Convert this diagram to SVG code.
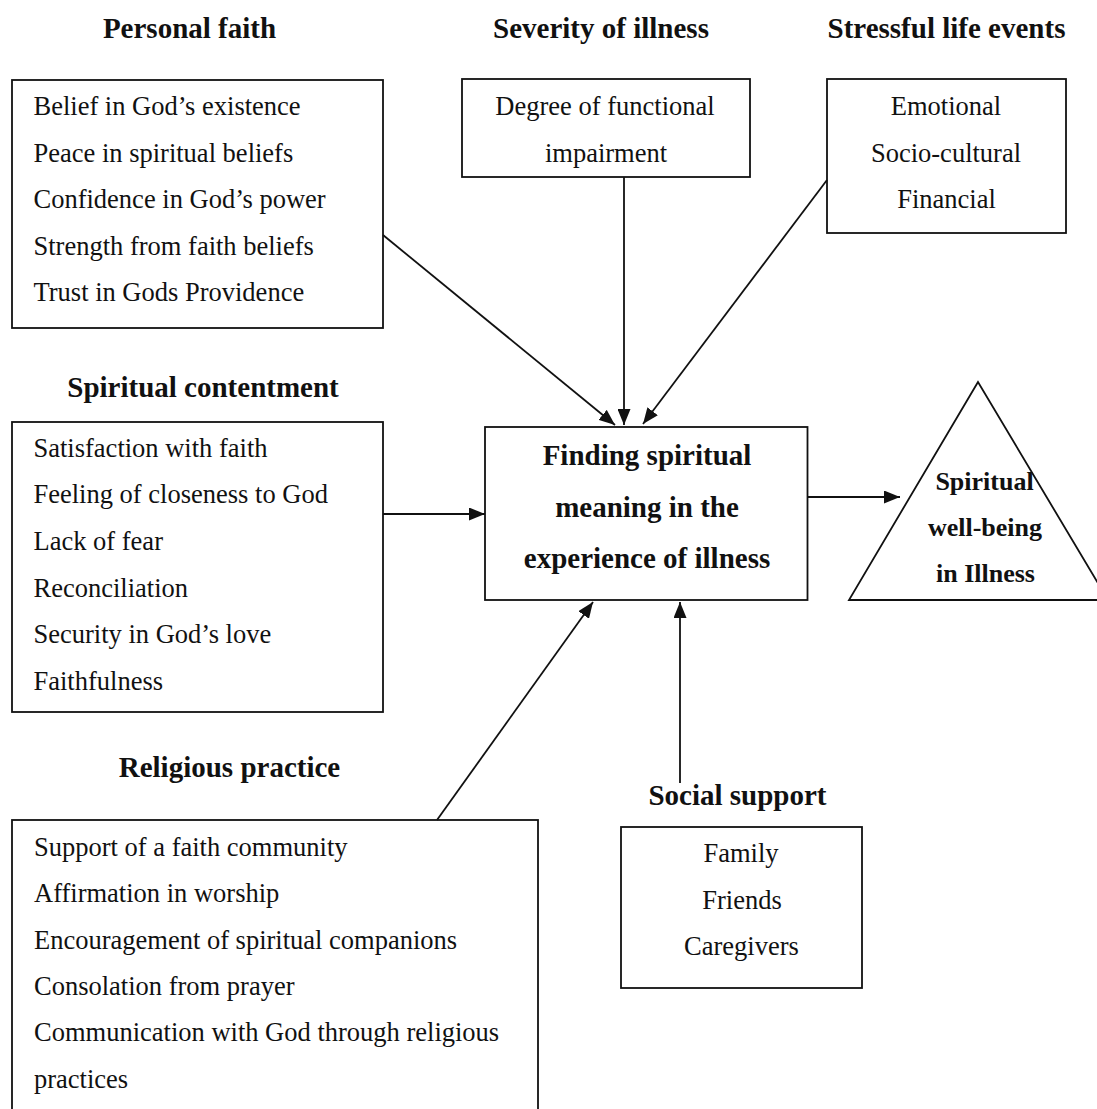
<svg xmlns="http://www.w3.org/2000/svg" width="1097" height="1109" viewBox="0 0 1097 1109">
  <style>
    .box { fill: #ffffff; stroke: #111111; stroke-width: 1.8; }
    .title { font-family: "Liberation Serif", "Times New Roman", serif; font-weight: bold; font-size: 29px; fill: #111111; text-anchor: middle; }
    .tri { font-family: "Liberation Serif", "Times New Roman", serif; font-weight: bold; font-size: 26px; fill: #111111; text-anchor: middle; }
    .item { font-family: "Liberation Serif", "Times New Roman", serif; font-size: 26.5px; fill: #111111; }
    .mid { text-anchor: middle; }
    .edge { stroke: #111111; stroke-width: 1.8; fill: none; marker-end: url(#arrow); }
  </style>
  <defs>
    <marker id="arrow" markerUnits="userSpaceOnUse" markerWidth="17" markerHeight="13" refX="16" refY="6.5" orient="auto">
      <path d="M0,0 L16,6.5 L0,13 Z" fill="#111111"/>
    </marker>
  </defs>

  <rect width="1097" height="1109" fill="#ffffff"/>

  <!-- Personal faith -->
  <g id="personal-faith">
    <text class="title" x="189.5" y="38">Personal faith</text>
    <rect class="box" x="12" y="80" width="371" height="248"/>
    <text class="item" x="33.5" y="115">Belief in God’s existence</text>
    <text class="item" x="33.5" y="161.5">Peace in spiritual beliefs</text>
    <text class="item" x="33.5" y="208">Confidence in God’s power</text>
    <text class="item" x="33.5" y="254.5">Strength from faith beliefs</text>
    <text class="item" x="33.5" y="301">Trust in Gods Providence</text>
  </g>

  <!-- Severity of illness -->
  <g id="severity-of-illness">
    <text class="title" x="601" y="38">Severity of illness</text>
    <rect class="box" x="462" y="79" width="288" height="98"/>
    <text class="item mid" x="605" y="115">Degree of functional</text>
    <text class="item mid" x="606" y="161.5">impairment</text>
  </g>

  <!-- Stressful life events -->
  <g id="stressful-life-events">
    <text class="title" x="946.5" y="38">Stressful life events</text>
    <rect class="box" x="827" y="79" width="239" height="154"/>
    <text class="item mid" x="946" y="115">Emotional</text>
    <text class="item mid" x="946" y="161.5">Socio-cultural</text>
    <text class="item mid" x="946.5" y="208">Financial</text>
  </g>

  <!-- Spiritual contentment -->
  <g id="spiritual-contentment">
    <text class="title" x="203" y="397">Spiritual contentment</text>
    <rect class="box" x="12" y="422" width="371" height="290"/>
    <text class="item" x="33.5" y="456.5">Satisfaction with faith</text>
    <text class="item" x="33.5" y="503">Feeling of closeness to God</text>
    <text class="item" x="33.5" y="550">Lack of fear</text>
    <text class="item" x="33.5" y="596.5">Reconciliation</text>
    <text class="item" x="33.5" y="643">Security in God’s love</text>
    <text class="item" x="33.5" y="690">Faithfulness</text>
  </g>

  <!-- Finding spiritual meaning -->
  <g id="finding-meaning">
    <rect class="box" x="485" y="427" width="322.5" height="173"/>
    <text class="title" x="647" y="465">Finding spiritual</text>
    <text class="title" x="647" y="516.5">meaning in the</text>
    <text class="title" x="647" y="568">experience of illness</text>
  </g>

  <!-- Spiritual well-being -->
  <g id="spiritual-well-being">
    <polygon class="box" points="978,382 849,600 1108,600"/>
    <text class="tri" x="984.5" y="490">Spiritual</text>
    <text class="tri" x="985" y="535.5">well-being</text>
    <text class="tri" x="985.5" y="582">in Illness</text>
  </g>

  <!-- Religious practice -->
  <g id="religious-practice">
    <text class="title" x="229.5" y="777">Religious practice</text>
    <rect class="box" x="12" y="820" width="526" height="320"/>
    <text class="item" x="34" y="856">Support of a faith community</text>
    <text class="item" x="34" y="902.3">Affirmation in worship</text>
    <text class="item" x="34" y="948.6">Encouragement of spiritual companions</text>
    <text class="item" x="34" y="994.9">Consolation from prayer</text>
    <text class="item" x="34" y="1041.2">Communication with God through religious</text>
    <text class="item" x="34" y="1087.5">practices</text>
  </g>

  <!-- Social support -->
  <g id="social-support">
    <text class="title" x="737.5" y="805">Social support</text>
    <rect class="box" x="621" y="827" width="241" height="161"/>
    <text class="item mid" x="741" y="862">Family</text>
    <text class="item mid" x="742" y="908.5">Friends</text>
    <text class="item mid" x="741.5" y="955">Caregivers</text>
  </g>

  <!-- Connectors -->
  <g id="connectors">
    <line class="edge" x1="383" y1="235" x2="615" y2="425"/>
    <line class="edge" x1="624" y1="177" x2="624" y2="425"/>
    <line class="edge" x1="827" y1="180" x2="643" y2="424"/>
    <line class="edge" x1="383" y1="514" x2="485" y2="514"/>
    <line class="edge" x1="807.5" y1="497" x2="900" y2="497"/>
    <line class="edge" x1="437" y1="820" x2="593" y2="602"/>
    <line class="edge" x1="680" y1="783" x2="680" y2="602"/>
  </g>
</svg>
